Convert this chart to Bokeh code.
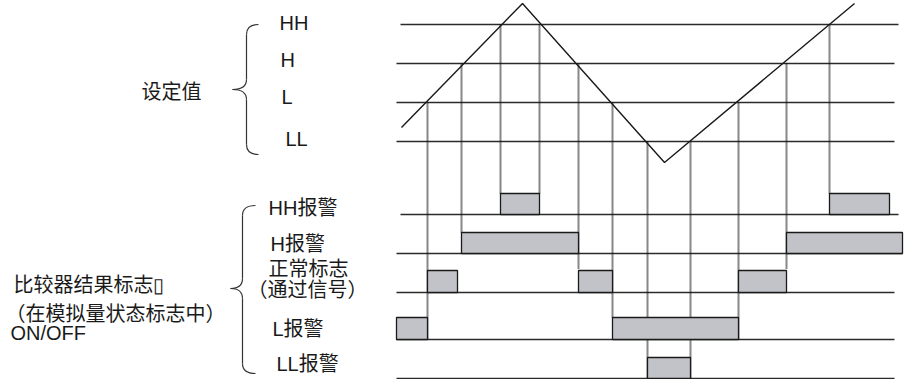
from bokeh.plotting import figure
from bokeh.models import Range1d
from bokeh.core.properties import value
from bokeh.embed import file_html
from bokeh.resources import INLINE

# ---------------- data (diagram units: x = time, y = position from top) -------------
level_names = ["HH", "H", "L", "LL"]
level_y = [24, 63, 102, 141]
level_x0 = [400, 396, 396, 396]
level_x1 = [898, 894, 894, 894]
level_label_x = [279, 280, 281, 285]
level_label_y = [22, 59, 96, 138]

wave_t = [401, 522, 664, 854]
wave_y = [127, 3, 162, 3]

cross_t = [427, 461, 500, 539, 578, 612, 647, 690, 738, 786, 829]
cross_top = [102, 63, 24, 24, 63, 102, 141, 141, 102, 63, 24]
cross_bot = [339, 232, 193, 193, 268, 317, 378, 378, 339, 268, 193]

row_labels = ["HH报警", "H报警", "正常标志", "L报警", "LL报警"]
row_label_x = [268, 270, 268, 272, 276]
row_label_y = [207, 243, 268, 328, 363]
row_base = [214, 253, 292, 339, 378]
row_top = [193, 232, 270, 317, 357]
row_x0 = [400, 396, 396, 396, 396]
row_x1 = [898, 902, 894, 894, 894]
bar_start = [[500, 829], [461, 786], [427, 578, 738], [396, 612], [647]]
bar_end = [[539, 889], [578, 902], [457, 612, 786], [427, 738], [690]]

CJK = value("Noto Sans CJK SC")
LAT = value("Liberation Sans")
MIX = value("Liberation Sans, Noto Sans CJK SC")
FS = "20px"
INK = "#1a1a1a"

p = figure(width=906, height=379, x_range=Range1d(0, 906), y_range=Range1d(379, 0),
           output_backend="svg", toolbar_location=None, min_border=0)
p.axis.visible = False
p.grid.visible = False
p.outline_line_color = None
p.background_fill_color = "white"

# threshold lines
p.segment(x0=level_x0, y0=level_y, x1=level_x1, y1=level_y, line_color="#2a2a2a", line_width=1.3)
# row baselines
p.segment(x0=row_x0, y0=row_base, x1=row_x1, y1=row_base, line_color="#2a2a2a", line_width=1.3)
# dotted drop lines
p.segment(x0=cross_t, y0=cross_top, x1=cross_t, y1=cross_bot, line_color="#111111",
          line_width=2, line_dash="1 1")
# waveform
p.line(wave_t, wave_y, line_color="#1a1a1a", line_width=1.4)

# alarm bars
L, R, T, B = [], [], [], []
for i in range(len(row_labels)):
    for s, e in zip(bar_start[i], bar_end[i]):
        L.append(s); R.append(e); T.append(row_top[i]); B.append(row_base[i])
p.quad(left=L, right=R, top=T, bottom=B, fill_color="#c1c3c9", line_color="#1a1a1a", line_width=1.3)

# braces
def brace(xt, xm, xe, yt, yc, yb, r=10):
    p.quadratic(x0=[xe, xm, xt, xm], y0=[yt, yc - r, yc, yb - r],
                x1=[xm, xt, xm, xe], y1=[yt + r, yc, yc + r, yb],
                cx=[xm, xm, xm, xm], cy=[yt, yc, yc, yb], line_color="#333333", line_width=1.2)
    p.segment(x0=[xm, xm], y0=[yt + r, yc + r], x1=[xm, xm], y1=[yc - r, yb - r],
              line_color="#333333", line_width=1.2)

brace(232, 246, 258, 24, 89, 154)
brace(230, 242, 255, 205, 288, 373)

# labels
p.text(x=level_label_x, y=level_label_y, text=level_names, text_font=LAT, text_font_size=FS,
       text_baseline="middle", text_align="left", text_color=INK)
p.text(x=[141], y=[90], text=["设定值"], text_font=CJK, text_font_size=FS,
       text_baseline="middle", text_align="left", text_color=INK)
p.text(x=row_label_x, y=row_label_y, text=row_labels, text_font=MIX, text_font_size=FS,
       text_baseline="middle", text_align="left", text_color=INK)
p.text(x=[247], y=[288], text=["（通过信号）"], text_font=CJK, text_font_size=FS,
       text_baseline="middle", text_align="left", text_color=INK)
p.text(x=[13, 5], y=[283, 312], text=["比较器结果标志\u25af", "（在模拟量状态标志中）"],
       text_font=CJK, text_font_size=FS, text_baseline="middle", text_align="left", text_color=INK)
p.text(x=[10], y=[332], text=["ON/OFF"], text_font=LAT, text_font_size=FS,
       text_baseline="middle", text_align="left", text_color=INK)

open("out.html", "w").write(file_html(p, INLINE))
